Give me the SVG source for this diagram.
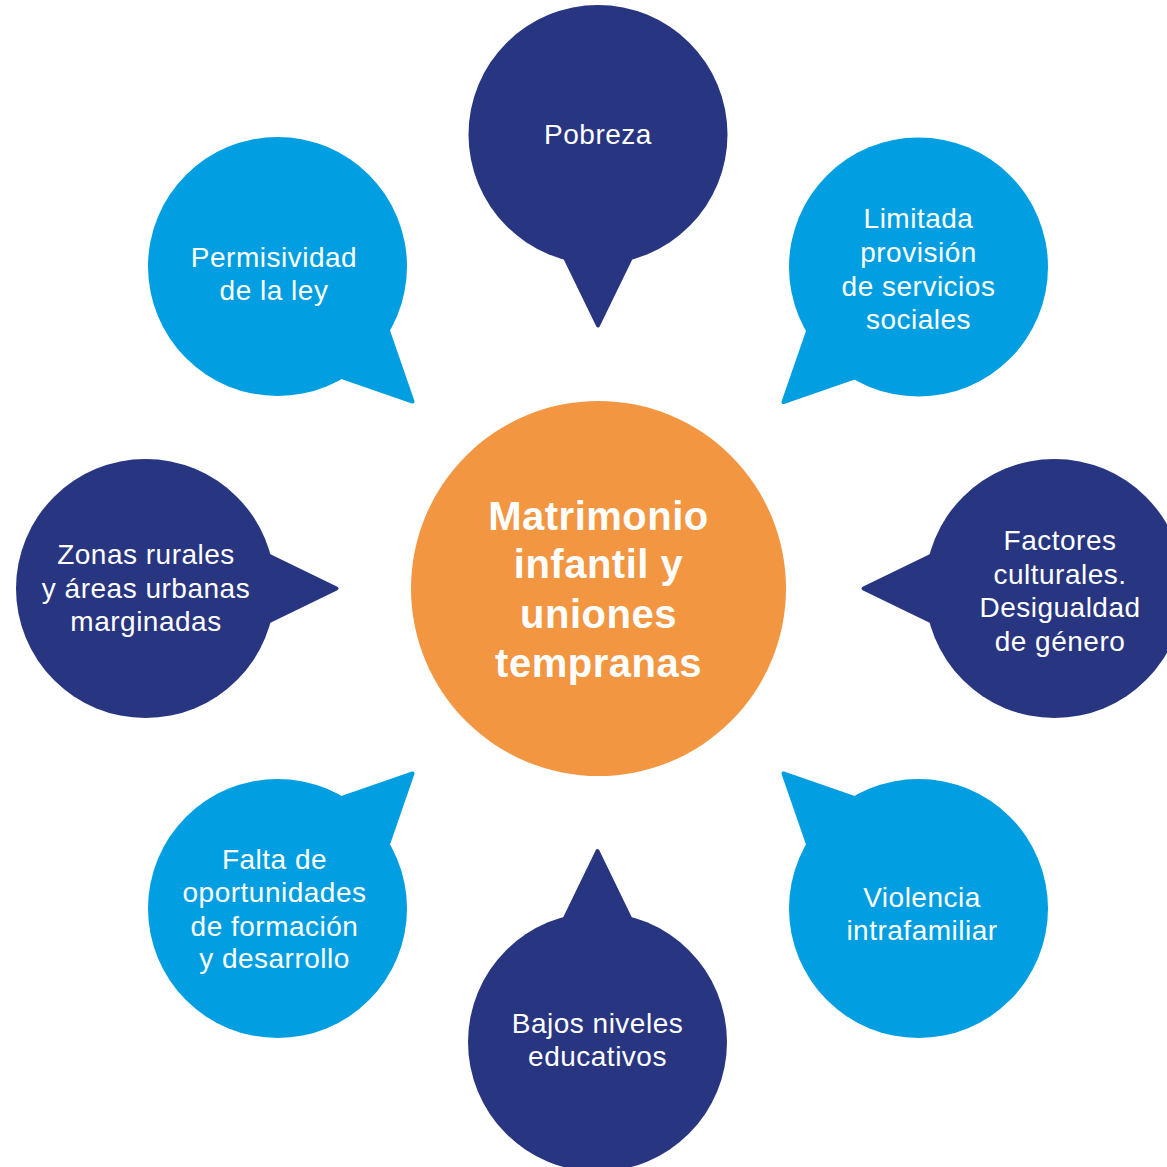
<svg xmlns="http://www.w3.org/2000/svg" xmlns:xlink="http://www.w3.org/1999/xlink" width="1167" height="1167" viewBox="0 0 1167 1167">
<style>
.dark{fill:#283581}
.light{fill:#019FE1}
.tail-dark{fill:#283581;stroke:#283581;stroke-width:4;stroke-linejoin:round}
.tail-light{fill:#019FE1;stroke:#019FE1;stroke-width:4;stroke-linejoin:round}
.t{font-family:"Liberation Sans",Arial,sans-serif;font-size:28px;fill:#fff;text-anchor:middle;letter-spacing:0.5px}
.c{font-family:"Liberation Sans",Arial,sans-serif;font-size:40px;font-weight:bold;fill:#fff;text-anchor:middle;letter-spacing:0.5px}
</style>
<defs>
<polygon id="tail" points="-49,90 49,90 0,191"/>
</defs>
<rect width="1167" height="1167" fill="#fff"/>
<g id="node-center">
<circle cx="598.5" cy="588.5" r="187.5" fill="#F39642"/>
<text class="c"><tspan x="598.5" y="530">Matrimonio</tspan><tspan x="598.5" y="578">infantil y</tspan><tspan x="598.5" y="628">uniones</tspan><tspan x="598.5" y="677">tempranas</tspan></text>
</g>
<g id="node-pobreza">
<use xlink:href="#tail" class="tail-dark" transform="translate(598,134.5) rotate(0)"/>
<circle class="dark" cx="598" cy="134.5" r="129.5"/>
<text class="t" x="598" y="144">Pobreza</text>
</g>
<g id="node-limitada">
<use xlink:href="#tail" class="tail-light" transform="translate(918.5,267) rotate(45)"/>
<circle class="light" cx="918.5" cy="267" r="129.5"/>
<text class="t"><tspan x="918.5" y="228">Limitada</tspan><tspan x="918.5" y="262">provisión</tspan><tspan x="918.5" y="296">de servicios</tspan><tspan x="918.5" y="329">sociales</tspan></text>
</g>
<g id="node-factores">
<use xlink:href="#tail" class="tail-dark" transform="translate(1054.5,588.5) rotate(90)"/>
<circle class="dark" cx="1054.5" cy="588.5" r="129.5"/>
<text class="t"><tspan x="1060" y="550">Factores</tspan><tspan x="1060" y="583.5">culturales.</tspan><tspan x="1060" y="617">Desigualdad</tspan><tspan x="1060" y="650.5">de género</tspan></text>
</g>
<g id="node-violencia">
<use xlink:href="#tail" class="tail-light" transform="translate(918.5,908.5) rotate(135)"/>
<circle class="light" cx="918.5" cy="908.5" r="129.5"/>
<text class="t"><tspan x="922" y="907">Violencia</tspan><tspan x="922" y="940">intrafamiliar</tspan></text>
</g>
<g id="node-bajos">
<use xlink:href="#tail" class="tail-dark" transform="translate(597.5,1042) rotate(180)"/>
<circle class="dark" cx="597.5" cy="1042" r="129.5"/>
<text class="t"><tspan x="597.5" y="1033">Bajos niveles</tspan><tspan x="597.5" y="1066">educativos</tspan></text>
</g>
<g id="node-falta">
<use xlink:href="#tail" class="tail-light" transform="translate(277.5,908.5) rotate(225)"/>
<circle class="light" cx="277.5" cy="908.5" r="129.5"/>
<text class="t"><tspan x="274.5" y="869">Falta de</tspan><tspan x="274.5" y="902">oportunidades</tspan><tspan x="274.5" y="936">de formación</tspan><tspan x="274.5" y="968">y desarrollo</tspan></text>
</g>
<g id="node-zonas">
<use xlink:href="#tail" class="tail-dark" transform="translate(145.5,588.5) rotate(270)"/>
<circle class="dark" cx="145.5" cy="588.5" r="129.5"/>
<text class="t"><tspan x="146" y="564">Zonas rurales</tspan><tspan x="146" y="598">y áreas urbanas</tspan><tspan x="146" y="631">marginadas</tspan></text>
</g>
<g id="node-permisividad">
<use xlink:href="#tail" class="tail-light" transform="translate(277.5,266.5) rotate(315)"/>
<circle class="light" cx="277.5" cy="266.5" r="129.5"/>
<text class="t"><tspan x="274" y="267">Permisividad</tspan><tspan x="274" y="300">de la ley</tspan></text>
</g>
</svg>
